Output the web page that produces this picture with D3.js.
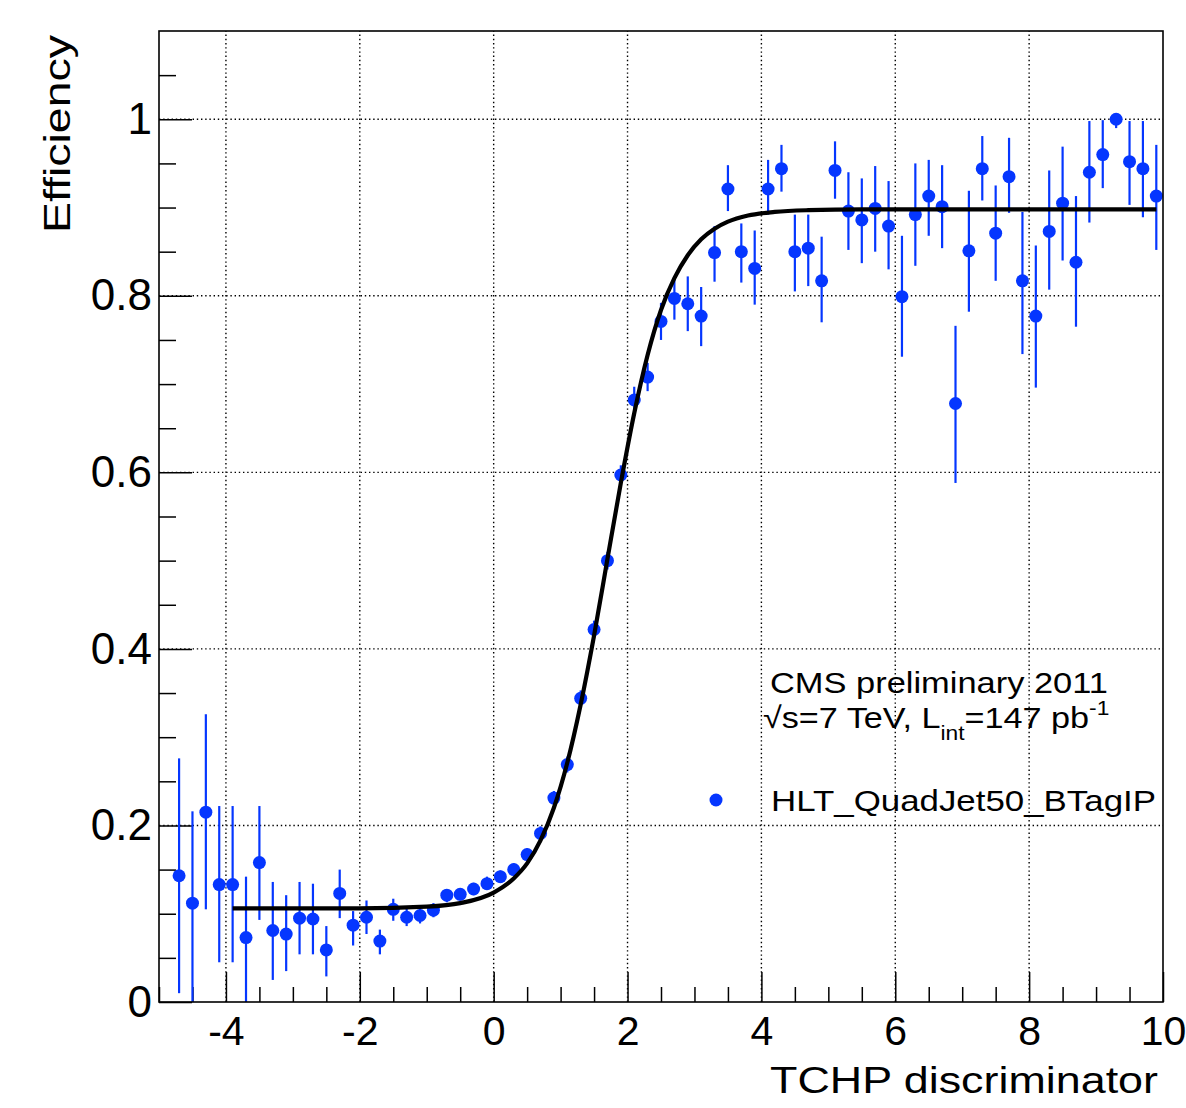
<!DOCTYPE html>
<html>
<head>
<meta charset="utf-8">
<script src="https://cdn.jsdelivr.net/npm/d3@7"></script>
<style>
  body { margin: 0; background: #fff; }
  svg { font-family: "Liberation Sans", Arial, Helvetica, sans-serif; }
</style>
</head>
<body>
<svg id="chart" width="1186" height="1108">
  <g id="grid"></g>
  <g id="x_axis"></g>
  <g id="x_minor"></g>
  <g id="y_axis"></g>
  <g id="y_minor"></g>
  <g id="bars"></g>
  <g id="points"></g>
  <g id="fit"></g>
  <g id="frame"></g>
  <g id="labels"></g>
  <g id="legend"></g>
</svg>
<script>
// bin centres of the TCHP discriminator
let bin_x = [-4.7, -4.5, -4.3, -4.1, -3.9, -3.7, -3.5, -3.3, -3.1, -2.9,
  -2.7, -2.5, -2.3, -2.1, -1.9, -1.7, -1.5, -1.3, -1.1, -0.9,
  -0.7, -0.5, -0.3, -0.1, 0.1, 0.3, 0.5, 0.7, 0.9, 1.1,
  1.3, 1.5, 1.7, 1.9, 2.1, 2.3, 2.5, 2.7, 2.9, 3.1,
  3.3, 3.5, 3.7, 3.9, 4.1, 4.3, 4.5, 4.7, 4.9, 5.1,
  5.3, 5.5, 5.7, 5.9, 6.1, 6.3, 6.5, 6.7, 6.9, 7.1,
  7.3, 7.5, 7.7, 7.9, 8.1, 8.3, 8.5, 8.7, 8.9, 9.1,
  9.3, 9.5, 9.7, 9.9]

// trigger efficiency per bin
let eff = [0.143, 0.112, 0.215, 0.133, 0.133, 0.073, 0.158, 0.081, 0.077, 0.095,
  0.094, 0.059, 0.123, 0.087, 0.096, 0.069, 0.105, 0.096, 0.098, 0.104,
  0.121, 0.122, 0.128, 0.134, 0.142, 0.150, 0.167, 0.191, 0.231, 0.269,
  0.344, 0.422, 0.500, 0.597, 0.682, 0.708, 0.771, 0.797, 0.791, 0.777,
  0.849, 0.921, 0.850, 0.831, 0.921, 0.944, 0.850, 0.854, 0.817, 0.942,
  0.896, 0.886, 0.899, 0.879, 0.799, 0.892, 0.913, 0.901, 0.678, 0.851,
  0.944, 0.871, 0.935, 0.817, 0.777, 0.873, 0.905, 0.838, 0.940, 0.960,
  1.000, 0.952, 0.944, 0.913]

// upper end of the error bars
let eff_up = [0.276, 0.216, 0.326, 0.222, 0.222, 0.142, 0.222, 0.136, 0.121, 0.136,
  0.134, 0.086, 0.150, 0.103, 0.115, 0.082, 0.117, 0.106, 0.106, 0.112,
  0.128, 0.129, 0.135, 0.142, 0.149, 0.157, 0.174, 0.199, 0.239, 0.278,
  0.353, 0.432, 0.510, 0.608, 0.697, 0.724, 0.792, 0.820, 0.822, 0.810,
  0.879, 0.948, 0.882, 0.874, 0.954, 0.971, 0.892, 0.892, 0.867, 0.975,
  0.940, 0.933, 0.947, 0.930, 0.868, 0.950, 0.954, 0.948, 0.766, 0.919,
  0.981, 0.925, 0.979, 0.895, 0.857, 0.942, 0.969, 0.913, 0.998, 0.999,
  1.000, 0.998, 0.998, 0.971]

// lower end of the error bars
let eff_down = [0.010, 0.000, 0.105, 0.045, 0.045, 0.000, 0.093, 0.025, 0.035, 0.054,
  0.054, 0.029, 0.095, 0.064, 0.077, 0.054, 0.092, 0.086, 0.089, 0.096,
  0.113, 0.115, 0.121, 0.127, 0.135, 0.143, 0.160, 0.183, 0.223, 0.260,
  0.335, 0.412, 0.490, 0.586, 0.668, 0.692, 0.750, 0.773, 0.760, 0.743,
  0.816, 0.896, 0.815, 0.790, 0.892, 0.918, 0.805, 0.811, 0.770, 0.910,
  0.852, 0.837, 0.850, 0.830, 0.731, 0.834, 0.868, 0.854, 0.588, 0.782,
  0.908, 0.817, 0.894, 0.734, 0.696, 0.807, 0.840, 0.765, 0.883, 0.922,
  0.990, 0.903, 0.889, 0.852]

// fitted turn-on curve
let fit_x = [-3.9, -2.0, -1.0, -0.5, 0.0, 0.3, 0.5, 0.7, 0.9, 1.1, 1.3, 1.5, 1.7,
  1.9, 2.1, 2.3, 2.5, 2.7, 2.9, 3.1, 3.3, 3.5, 3.8, 4.2, 4.7, 5.5, 9.9]
let fit_y = [0.106, 0.106, 0.108, 0.112, 0.124, 0.140, 0.157, 0.183, 0.220, 0.271, 0.337, 0.415, 0.502,
  0.588, 0.667, 0.733, 0.784, 0.820, 0.846, 0.864, 0.876, 0.884, 0.891, 0.895, 0.897, 0.898, 0.898]

let x_ticks = [-4, -2, 0, 2, 4, 6, 8, 10]
let x_minor_ticks = [-5, -4.5, -3.5, -3, -2.5, -1.5, -1, -0.5, 0.5, 1, 1.5, 2.5, 3, 3.5,
  4.5, 5, 5.5, 6.5, 7, 7.5, 8.5, 9, 9.5]
let y_ticks = [0, 0.2, 0.4, 0.6, 0.8, 1]
let y_minor_ticks = [0.05, 0.1, 0.15, 0.25, 0.3, 0.35, 0.45, 0.5, 0.55, 0.65, 0.7, 0.75,
  0.85, 0.9, 0.95, 1.05]

let margin = {top: 31, right: 23, bottom: 106, left: 159}
let W = 1186, H = 1108
let blue = "#0536ff"

function make_scales() {
  return {
    x: d3.scaleLinear()
      .domain([-5, 10])
      .range([margin.left, W - margin.right]),
    y: d3.scaleLinear()
      .domain([0, 1.1])
      .range([H - margin.bottom, margin.top])
  }
}

// dotted grid at the major ticks
function draw_grid(scales) {
  let g = d3.select("#grid")
  g.selectAll("line.gx")
    .data(x_ticks.filter(d => d < 10)).enter()
    .append("line")
    .attr("class", "gx")
    .attr("x1", d => scales.x(d)).attr("x2", d => scales.x(d))
    .attr("y1", scales.y(0)).attr("y2", scales.y(1.1))
  g.selectAll("line.gy")
    .data(y_ticks.filter(d => d > 0)).enter()
    .append("line")
    .attr("class", "gy")
    .attr("x1", scales.x(-5)).attr("x2", scales.x(10))
    .attr("y1", d => scales.y(d)).attr("y2", d => scales.y(d))
  g.selectAll("line")
    .attr("stroke", "#000")
    .attr("stroke-width", 1.4)
    .attr("stroke-dasharray", "1.4,2.8")
}

function draw_axes(scales) {
  // plain hyphen for negatives, like the original
  let x_axis = d3.axisBottom(scales.x)
    .tickValues(x_ticks)
    .tickSizeInner(-30).tickSizeOuter(0)
    .tickPadding(14)
    .tickFormat(d => String(d))
  d3.select("#x_axis")
    .attr("transform", `translate(0, ${scales.y(0)})`)
    .call(x_axis)

  d3.select("#x_minor")
    .attr("transform", `translate(0, ${scales.y(0)})`)
    .call(d3.axisBottom(scales.x).tickValues(x_minor_ticks)
      .tickSizeInner(-15).tickSizeOuter(0).tickFormat(""))

  let y_axis = d3.axisLeft(scales.y)
    .tickValues(y_ticks)
    .tickSizeInner(-33).tickSizeOuter(0)
    .tickPadding(7)
    .tickFormat(d => d == 0 || d == 1 ? String(d) : d.toFixed(1))
  d3.select("#y_axis")
    .attr("transform", `translate(${scales.x(-5)}, 0)`)
    .call(y_axis)

  d3.select("#y_minor")
    .attr("transform", `translate(${scales.x(-5)}, 0)`)
    .call(d3.axisLeft(scales.y).tickValues(y_minor_ticks)
      .tickSizeInner(-17).tickSizeOuter(0).tickFormat(""))

  d3.selectAll("#x_axis, #x_minor, #y_axis, #y_minor").select(".domain").remove()
  d3.selectAll("#x_axis line, #x_minor line, #y_axis line, #y_minor line")
    .attr("stroke", "#000").attr("stroke-width", 1.5)
  d3.selectAll("#x_axis text, #y_axis text")
    .attr("font-family", "Liberation Sans, Arial, sans-serif")
    .attr("fill", "#000")
  d3.selectAll("#y_axis text").attr("font-size", 44)
  d3.selectAll("#x_axis text").attr("font-size", 41)
}

function draw_points(scales) {
  let idx = d3.range(bin_x.length)
  d3.select("#bars")
    .selectAll("line")
    .data(idx).enter()
    .append("line")
    .attr("x1", i => scales.x(bin_x[i])).attr("x2", i => scales.x(bin_x[i]))
    .attr("y1", i => scales.y(eff_up[i]))
    .attr("y2", i => scales.y(eff_down[i]))
    .attr("stroke", blue)
    .attr("stroke-width", 2.2)

  d3.select("#points")
    .selectAll("circle")
    .data(idx).enter()
    .append("circle")
    .attr("cx", i => scales.x(bin_x[i]))
    .attr("cy", i => scales.y(eff[i]))
    .attr("r", 6.5)
    .attr("fill", blue)
}

function draw_fit(scales) {
  let path_generator = d3.line()
    .x(i => scales.x(fit_x[i]))
    .y(i => scales.y(fit_y[i]))
    .curve(d3.curveMonotoneX)
  d3.select("#fit")
    .append("path")
    .attr("d", path_generator(d3.range(fit_x.length)))
    .attr("fill", "none")
    .attr("stroke", "#000")
    .attr("stroke-width", 4.2)
}

function draw_frame(scales) {
  d3.select("#frame")
    .append("rect")
    .attr("x", scales.x(-5)).attr("y", scales.y(1.1))
    .attr("width", scales.x(10) - scales.x(-5))
    .attr("height", scales.y(0) - scales.y(1.1))
    .attr("fill", "none")
    .attr("stroke", "#000")
    .attr("stroke-width", 1.6)
}

// helper: text stretched to a given width like the ROOT fonts
function stretched(sel, txt, x, y, size, width, anchor) {
  return sel.append("text")
    .attr("x", x).attr("y", y)
    .attr("font-size", size)
    .attr("text-anchor", anchor || "start")
    .attr("textLength", width)
    .attr("lengthAdjust", "spacingAndGlyphs")
    .text(txt)
}

function draw_labels() {
  let g = d3.select("#labels")
  stretched(g, "TCHP discriminator", 1158, 1093, 37, 388, "end")
  stretched(g.append("g").attr("transform", "translate(70, 35) rotate(-90)"),
    "Efficiency", 0, 0, 37, 198, "end")

  let lg = d3.select("#legend")
  stretched(lg, "CMS preliminary 2011", 770, 693, 30, 338)

  let t = lg.append("text")
    .attr("transform", "translate(763, 728) scale(1.14, 1)")
    .attr("font-size", 30)
  t.append("tspan").text("\u221As=7 TeV, L")
  t.append("tspan").attr("font-size", 20).attr("dy", 12).text("int")
  t.append("tspan").attr("dy", -12).text("=147 pb")
  t.append("tspan").attr("font-size", 20).attr("dy", -13).text("-1")

  lg.append("circle")
    .attr("cx", 716).attr("cy", 800).attr("r", 6.5)
    .attr("fill", blue)
  stretched(lg, "HLT_QuadJet50_BTagIP", 771, 811, 30, 385)
}

function visualize() {
  let scales = make_scales()
  draw_grid(scales)
  draw_axes(scales)
  draw_points(scales)
  draw_fit(scales)
  draw_frame(scales)
  draw_labels()
}

visualize()
</script>
</body>
</html>
